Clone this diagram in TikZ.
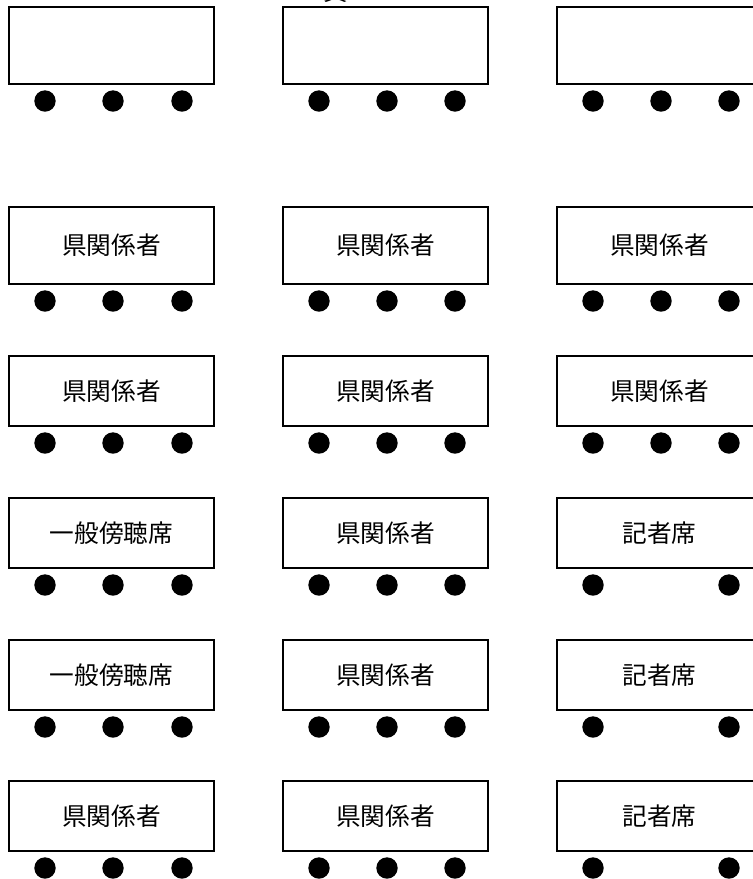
\documentclass[tikz,border=0pt]{standalone}
\usepackage{fontspec}
\newfontfamily\jpfont{Noto Sans CJK JP}

\tikzset{every picture/.style={line width=0.75pt}}
\tikzset{seatbox/.style={line width=2pt},
         seatdot/.style={fill=black, draw=none},
         seatlabel/.style={anchor=center, inner sep=0.75pt, font=\jpfont\fontsize{18.5}{21}\selectfont}}

\begin{document}
\begin{tikzpicture}[x=0.75pt,y=0.75pt,yscale=-1,xscale=1]
\useasboundingbox (0,0) rectangle (753,879); %set diagram size to 753 x 879

% Text Node
\draw (336,0) node [seatlabel, anchor=base] (title) {資};

%Shape: Rectangle [row 1]
\draw [seatbox] (9,7) -- (214,7) -- (214,84) -- (9,84) -- cycle ;
\draw [seatbox] (283,7) -- (488,7) -- (488,84) -- (283,84) -- cycle ;
\draw [seatbox] (557,7) -- (762,7) -- (762,84) -- (557,84) -- cycle ;
%Shape: Circle [row 1]
\path [seatdot] (45,101) circle (10.7) (113,101) circle (10.7) (182,101) circle (10.7) ;
\path [seatdot] (319,101) circle (10.7) (387,101) circle (10.7) (455,101) circle (10.7) ;
\path [seatdot] (593,101) circle (10.7) (661,101) circle (10.7) (729,101) circle (10.7) ;

%Shape: Rectangle [row 2]
\draw [seatbox] (9,207) -- (214,207) -- (214,284) -- (9,284) -- cycle ;
\draw [seatbox] (283,207) -- (488,207) -- (488,284) -- (283,284) -- cycle ;
\draw [seatbox] (557,207) -- (762,207) -- (762,284) -- (557,284) -- cycle ;
%Shape: Circle [row 2]
\path [seatdot] (45,301) circle (10.7) (113,301) circle (10.7) (182,301) circle (10.7) ;
\path [seatdot] (319,301) circle (10.7) (387,301) circle (10.7) (455,301) circle (10.7) ;
\path [seatdot] (593,301) circle (10.7) (661,301) circle (10.7) (729,301) circle (10.7) ;
% Text Node
\draw (111.5,245.5) node [seatlabel] (a21) {県関係者};
% Text Node
\draw (385.5,245.5) node [seatlabel] (a22) {県関係者};
% Text Node
\draw (659.5,245.5) node [seatlabel] (a23) {県関係者};

%Shape: Rectangle [row 3]
\draw [seatbox] (9,356) -- (214,356) -- (214,426) -- (9,426) -- cycle ;
\draw [seatbox] (283,356) -- (488,356) -- (488,426) -- (283,426) -- cycle ;
\draw [seatbox] (557,356) -- (762,356) -- (762,426) -- (557,426) -- cycle ;
%Shape: Circle [row 3]
\path [seatdot] (45,443) circle (10.7) (113,443) circle (10.7) (182,443) circle (10.7) ;
\path [seatdot] (319,443) circle (10.7) (387,443) circle (10.7) (455,443) circle (10.7) ;
\path [seatdot] (593,443) circle (10.7) (661,443) circle (10.7) (729,443) circle (10.7) ;
% Text Node
\draw (111.5,391) node [seatlabel] (a31) {県関係者};
% Text Node
\draw (385.5,391) node [seatlabel] (a32) {県関係者};
% Text Node
\draw (659.5,391) node [seatlabel] (a33) {県関係者};

%Shape: Rectangle [row 4]
\draw [seatbox] (9,498) -- (214,498) -- (214,568) -- (9,568) -- cycle ;
\draw [seatbox] (283,498) -- (488,498) -- (488,568) -- (283,568) -- cycle ;
\draw [seatbox] (557,498) -- (762,498) -- (762,568) -- (557,568) -- cycle ;
%Shape: Circle [row 4]
\path [seatdot] (45,585) circle (10.7) (113,585) circle (10.7) (182,585) circle (10.7) ;
\path [seatdot] (319,585) circle (10.7) (387,585) circle (10.7) (455,585) circle (10.7) ;
\path [seatdot] (593,585) circle (10.7) (729,585) circle (10.7) ;
% Text Node
\draw (111.5,533) node [seatlabel] (a41) {一般傍聴席};
% Text Node
\draw (385.5,533) node [seatlabel] (a42) {県関係者};
% Text Node
\draw (659.5,533) node [seatlabel] (a43) {記者席};

%Shape: Rectangle [row 5]
\draw [seatbox] (9,640) -- (214,640) -- (214,710) -- (9,710) -- cycle ;
\draw [seatbox] (283,640) -- (488,640) -- (488,710) -- (283,710) -- cycle ;
\draw [seatbox] (557,640) -- (762,640) -- (762,710) -- (557,710) -- cycle ;
%Shape: Circle [row 5]
\path [seatdot] (45,727) circle (10.7) (113,727) circle (10.7) (182,727) circle (10.7) ;
\path [seatdot] (319,727) circle (10.7) (387,727) circle (10.7) (455,727) circle (10.7) ;
\path [seatdot] (593,727) circle (10.7) (729,727) circle (10.7) ;
% Text Node
\draw (111.5,675) node [seatlabel] (a51) {一般傍聴席};
% Text Node
\draw (385.5,675) node [seatlabel] (a52) {県関係者};
% Text Node
\draw (659.5,675) node [seatlabel] (a53) {記者席};

%Shape: Rectangle [row 6]
\draw [seatbox] (9,781) -- (214,781) -- (214,851) -- (9,851) -- cycle ;
\draw [seatbox] (283,781) -- (488,781) -- (488,851) -- (283,851) -- cycle ;
\draw [seatbox] (557,781) -- (762,781) -- (762,851) -- (557,851) -- cycle ;
%Shape: Circle [row 6]
\path [seatdot] (45,868) circle (10.7) (113,868) circle (10.7) (182,868) circle (10.7) ;
\path [seatdot] (319,868) circle (10.7) (387,868) circle (10.7) (455,868) circle (10.7) ;
\path [seatdot] (593,868) circle (10.7) (729,868) circle (10.7) ;
% Text Node
\draw (111.5,816) node [seatlabel] (a61) {県関係者};
% Text Node
\draw (385.5,816) node [seatlabel] (a62) {県関係者};
% Text Node
\draw (659.5,816) node [seatlabel] (a63) {記者席};

\end{tikzpicture}
\end{document}
